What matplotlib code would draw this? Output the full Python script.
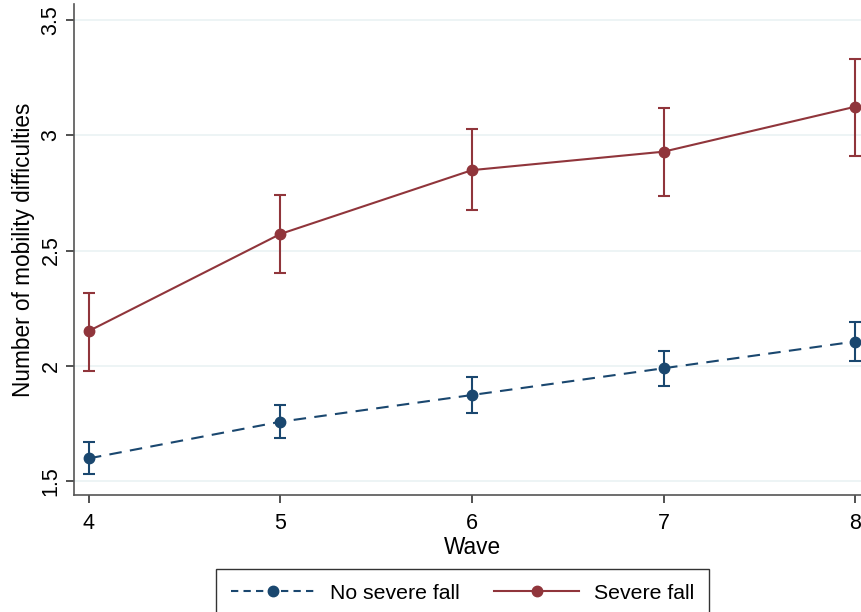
import matplotlib
matplotlib.use("Agg")
import matplotlib.pyplot as plt
from matplotlib.lines import Line2D

plt.rcParams['font.family'] = ['Liberation Sans', 'DejaVu Sans']

waves = [4, 5, 6, 7, 8]
no_fall = [1.598, 1.757, 1.873, 1.989, 2.105]
no_fall_lo = [1.530, 1.687, 1.796, 1.912, 2.020]
no_fall_hi = [1.668, 1.830, 1.950, 2.065, 2.190]
severe = [2.151, 2.572, 2.849, 2.929, 3.124]
severe_lo = [1.979, 2.401, 2.676, 2.736, 2.911]
severe_hi = [2.316, 2.742, 3.028, 3.120, 3.331]
yticks = [1.5, 2, 2.5, 3, 3.5]
ytick_labels = ["1.5", "2", "2.5", "3", "3.5"]
series_labels = ["No severe fall", "Severe fall"]

blue = "#1A476F"
red = "#90353B"
W, H = 861, 612
fig = plt.figure(figsize=(W / 100, H / 100), dpi=100)
ax = fig.add_axes([74 / W, (H - 495) / H, (870 - 74) / W, (495 - 4) / H])

ax.set_xlim(3.922, 8.078)
ax.set_ylim(1.439, 3.57)

for y in yticks:
    ax.axhline(y, color="#EAF2F3", lw=1.2, zorder=0)

def err(v, lo, hi):
    return [[a - b for a, b in zip(v, lo)], [c - a for a, c in zip(v, hi)]]

ax.errorbar(waves, no_fall, yerr=err(no_fall, no_fall_lo, no_fall_hi), fmt='none',
            ecolor=blue, elinewidth=1.5, capsize=4.5, capthick=1.5, zorder=2)
ax.errorbar(waves, severe, yerr=err(severe, severe_lo, severe_hi), fmt='none',
            ecolor=red, elinewidth=1.5, capsize=4.5, capthick=1.5, zorder=2)
ax.plot(waves, no_fall, color=blue, lw=1.5, ls=(0, (6, 4)), marker='o', ms=7.5,
        zorder=3, label=series_labels[0])
ax.plot(waves, severe, color=red, lw=1.5, ls='-', marker='o', ms=7.5,
        zorder=3, label=series_labels[1])

ax.spines['top'].set_visible(False)
ax.spines['right'].set_visible(False)
for s in ['left', 'bottom']:
    ax.spines[s].set_color("#555555")
    ax.spines[s].set_linewidth(1.2)

ax.set_xticks(waves)
ax.set_xticklabels([str(w) for w in waves], fontsize=15.5)
ax.set_yticks(yticks)
ax.set_yticklabels(ytick_labels, fontsize=15.5, rotation=90, va='center')
ax.tick_params(axis='both', length=6, width=1.2, color="#333333", direction='out')
ax.tick_params(axis='x', pad=7)
ax.tick_params(axis='y', pad=3)
ax.set_xlabel("Wave", fontsize=16.3, labelpad=1.5)
ax.set_ylabel("Number of mobility difficulties", fontsize=16.3, labelpad=4)

handles = [Line2D([0], [0], color=blue, lw=1.5, ls=(0, (3.5, 2.5)), marker='o', ms=7.5),
           Line2D([0], [0], color=red, lw=1.5, ls='-', marker='o', ms=7.5)]
leg = fig.legend(handles, series_labels, loc='upper center', bbox_to_anchor=(462.5 / W, (H - 569) / H),
                 ncol=2, fontsize=15.3, frameon=True, fancybox=False, edgecolor='black',
                 handlelength=4.0, handletextpad=0.7, columnspacing=1.6, borderpad=0.7,
                 borderaxespad=0)
leg.get_frame().set_linewidth(1.0)

fig.savefig("out.png", dpi=100)
